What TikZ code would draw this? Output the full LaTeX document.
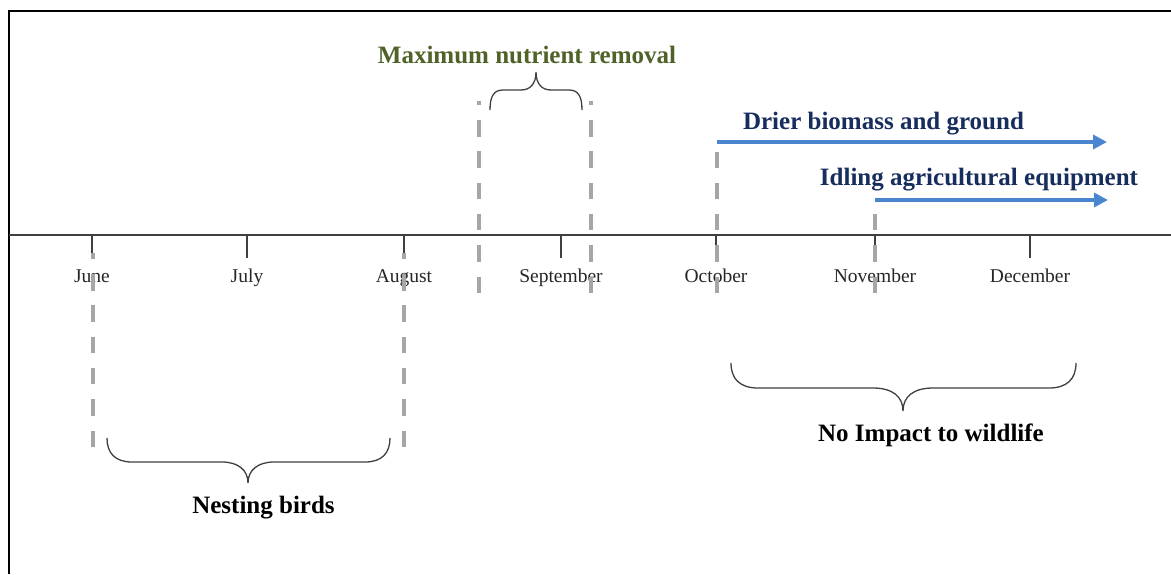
\documentclass[tikz,border=0pt]{standalone}
\usepackage{fontspec}
\setmainfont{Liberation Serif}
\usetikzlibrary{arrows.meta}

\definecolor{axisgrey}{RGB}{64,64,64}
\definecolor{guidegrey}{RGB}{166,166,166}
\definecolor{olivetitle}{RGB}{79,98,40}
\definecolor{navytitle}{RGB}{23,45,93}
\definecolor{arrowblue}{RGB}{74,134,208}

\tikzset{
  frameline/.style={line width=2.2pt, black},
  axisline/.style={line width=1.6pt, axisgrey},
  tickline/.style={line width=1.4pt, axisgrey},
  monthlabel/.style={anchor=base, inner sep=0pt, font=\fontsize{19.5}{22}\selectfont, text=black!85},
  guide/.style={line width=4pt, guidegrey, dash pattern=on 16.5pt off 14.8pt},
  bracepath/.style={line width=1.3pt, axisgrey},
  titlelabel/.style={anchor=base, inner sep=0pt, font=\fontsize{25}{28}\selectfont\bfseries},
  trendarrow/.style={line width=3.6pt, arrowblue, -{Triangle[length=14pt,width=14pt]}}
}

\begin{document}
\begin{tikzpicture}[x=1pt,y=-1pt]
\useasboundingbox (0,0) rectangle (1171,574);
\fill[white] (0,0) rectangle (1171,574);

% outer frame (left and top edges visible)
\draw[frameline] (9,574) -- (9,11.3) -- (1171,11.3);

% time axis
\coordinate (axisL) at (9,235);
\coordinate (axisR) at (1171,235);
\draw[axisline] (axisL) -- (axisR);

% month ticks and labels
\foreach \m/\x in {June/92, July/247, August/404, September/561, October/716, November/875, December/1030}{
  \coordinate (t-\m) at (\x,235);
  \draw[tickline] (t-\m) -- ++(0,23);
  \node[monthlabel] (l-\m) at (\x,282) {\m};
}

% dashed guide lines (drawn from the bottom so the lower dash is whole)
\coordinate (gJuneB) at (93,447);   \coordinate (gJuneT) at (93,253);
\coordinate (gAugB) at (404,447);   \coordinate (gAugT) at (404,253);
\coordinate (gN1B) at (479,293);    \coordinate (gN1T) at (479,101);
\coordinate (gN2B) at (591,293);    \coordinate (gN2T) at (591,101);
\coordinate (gOctB) at (717,293);   \coordinate (gOctT) at (717,152);
\coordinate (gNovB) at (875,293);   \coordinate (gNovT) at (875,213);
\draw[guide] (gJuneB) -- (gJuneT);
\draw[guide] (gAugB) -- (gAugT);
\draw[guide] (gN1B) -- (gN1T);
\draw[guide] (gN2B) -- (gN2T);
\draw[guide] (gOctB) -- (gOctT);
\draw[guide] (gNovB) -- (gNovT);

% maximum nutrient removal
\node[titlelabel, text=olivetitle] (nutrient) at (527,63) {Maximum nutrient removal};
\draw[bracepath] (490,110) .. controls (490,96) and (494,90) .. (503,90) -- (521,90)
  .. controls (530,90) and (536,84) .. (536,72)
  .. controls (536,84) and (542,90) .. (551,90) -- (569,90)
  .. controls (578,90) and (582,96) .. (582,110);

% drier biomass and ground
\node[titlelabel, text=navytitle] (drier) at (883.5,129) {Drier biomass and ground};
\coordinate (drierS) at (717,142);
\coordinate (drierE) at (1107,142);
\draw[trendarrow] (drierS) -- (drierE);

% idling agricultural equipment
\node[titlelabel, text=navytitle] (idling) at (979,185) {Idling agricultural equipment};
\coordinate (idlingS) at (875,200);
\coordinate (idlingE) at (1108,200);
\draw[trendarrow] (idlingS) -- (idlingE);

% nesting birds
\draw[bracepath] (107,438) .. controls (107,453) and (115,462) .. (132,462) -- (222,462)
  .. controls (238,462) and (248,470) .. (248,483)
  .. controls (248,470) and (258,462) .. (274,462) -- (365,462)
  .. controls (382,462) and (390,453) .. (390,438);
\node[titlelabel, text=black] (nesting) at (263.5,513) {Nesting birds};

% no impact to wildlife
\draw[bracepath] (731,363) .. controls (731,379) and (740,388) .. (758,388) -- (873,388)
  .. controls (893,388) and (903,397) .. (903,411)
  .. controls (903,397) and (913,388) .. (933,388) -- (1049,388)
  .. controls (1067,388) and (1076,379) .. (1076,363);
\node[titlelabel, text=black] (noimpact) at (931,441) {No Impact to wildlife};
\end{tikzpicture}
\end{document}
